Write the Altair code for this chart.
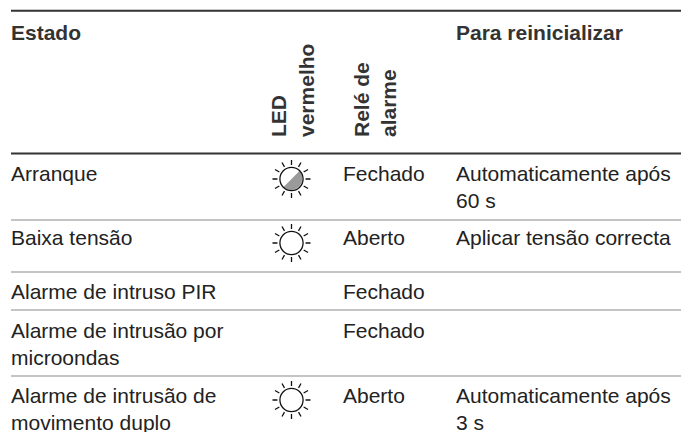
import altair as alt
import pandas as pd

W, H = 673, 424

# table content
columns = ["Estado", "LED vermelho", "Relé de alarme", "Para reinicializar"]
states = [["Arranque"], ["Baixa tensão"], ["Alarme de intruso PIR"],
          ["Alarme de intrusão por", "microondas"],
          ["Alarme de intrusão de", "movimento duplo"]]
relay = ["Fechado", "Aberto", "Fechado", "Fechado", "Aberto"]
reset = [["Automaticamente após", "60 s"], ["Aplicar tensão correcta"], [], [],
         ["Automaticamente após", "3 s"]]
led = ["half", "empty", None, None, "empty"]
led_head = ["LED", "vermelho"]
relay_head = ["Relé de", "alarme"]

# layout (page pixels)
col_x = {"state": 11, "relay": 343, "reset": 456, "led": 291.5}
row_base = [180.7, 245, 299, 337.7, 403.3]
icon_y = [179, 243, 0, 0, 400]
rule_y = [(10.7, 2, "#333333"), (153.5, 2, "#333333"), (220, 2, "#c4c4c4"),
          (272, 2, "#c4c4c4"), (310, 2, "#c4c4c4"), (376, 2, "#c4c4c4")]
LINE = 27

text_rows = []
for i in range(5):
    for j, t in enumerate(states[i]):
        text_rows.append(dict(t=t, x=col_x["state"], y=row_base[i] + j * LINE))
    text_rows.append(dict(t=relay[i], x=col_x["relay"], y=row_base[i]))
    for j, t in enumerate(reset[i]):
        text_rows.append(dict(t=t, x=col_x["reset"], y=row_base[i] + j * LINE))

head_rows = [dict(t=columns[0], x=col_x["state"], y=39.5),
             dict(t=columns[3], x=col_x["reset"], y=39.5)]
rot_rows = [dict(t=led_head[0], x=286, y=137), dict(t=led_head[1], x=314.3, y=137),
            dict(t=relay_head[0], x=368.7, y=137), dict(t=relay_head[1], x=396, y=137)]
rule_rows = [dict(y=y, w=w, c=c, x=11, x2=8 + W) for y, w, c in rule_y]
icon_rows = [dict(x=col_x["led"], y=icon_y[i], k=led[i]) for i in range(5) if led[i]]

xs = alt.Scale(domain=[8, 8 + W], range=[0, W])
ys = alt.Scale(domain=[8, 8 + H], range=[0, H])
X = alt.X("x:Q", scale=xs, axis=None)
Y = alt.Y("y:Q", scale=ys, axis=None)
FONT = "Liberation Sans"

rules = alt.Chart(pd.DataFrame(rule_rows)).mark_rule().encode(
    X, alt.X2("x2:Q"), Y,
    color=alt.Color("c:N", scale=None),
    strokeWidth=alt.StrokeWidth("w:Q", scale=None))
body = alt.Chart(pd.DataFrame(text_rows)).mark_text(
    align="left", baseline="alphabetic", font=FONT, fontSize=21, color="#222222"
).encode(X, Y, text="t:N")
head = alt.Chart(pd.DataFrame(head_rows)).mark_text(
    align="left", baseline="alphabetic", font=FONT, fontSize=21, fontWeight="bold", color="#333333"
).encode(X, Y, text="t:N")
rot = alt.Chart(pd.DataFrame(rot_rows)).mark_text(
    align="left", baseline="alphabetic", angle=270, font=FONT, fontSize=21, fontWeight="bold", color="#333333"
).encode(X, Y, text="t:N")

RAYS = ("M0.74 0L1 0M-0.74 0L-1 0M0 0.74L0 1M0 -0.74L0 -1"
        "M0.64 0.37L0.87 0.5M-0.64 0.37L-0.87 0.5M0.64 -0.37L0.87 -0.5M-0.64 -0.37L-0.87 -0.5"
        "M0.37 0.64L0.5 0.87M-0.37 0.64L-0.5 0.87M0.37 -0.64L0.5 -0.87M-0.37 -0.64L-0.5 -0.87")
CIRCLE = "M0.61 0A0.61 0.61 0 1 1 -0.61 0A0.61 0.61 0 1 1 0.61 0Z"
WEDGE = "M0.43 -0.43A0.61 0.61 0 0 1 -0.43 0.43Z"
SIZE = 38 * 38
idf = pd.DataFrame(icon_rows)
circ = alt.Chart(idf).mark_point(shape=CIRCLE, size=SIZE, filled=False, stroke="#111111", strokeWidth=1.3, opacity=1).encode(X, Y)
ray = alt.Chart(idf).mark_point(shape=RAYS, size=SIZE, filled=False, stroke="#111111", strokeWidth=1.3, opacity=1).encode(X, Y)
wedge = alt.Chart(idf[idf.k == "half"]).mark_point(shape=WEDGE, size=SIZE, filled=True, fill="#9a9a9a", opacity=1, strokeWidth=0).encode(X, Y)

chart = alt.layer(rules, body, head, rot, wedge, circ, ray).properties(
    width=W, height=H, autosize=alt.AutoSizeParams(type="none"), padding=0, background="white"
).configure_view(stroke=None)
chart.save("out.html", embed_options={"renderer": "svg", "actions": False})
